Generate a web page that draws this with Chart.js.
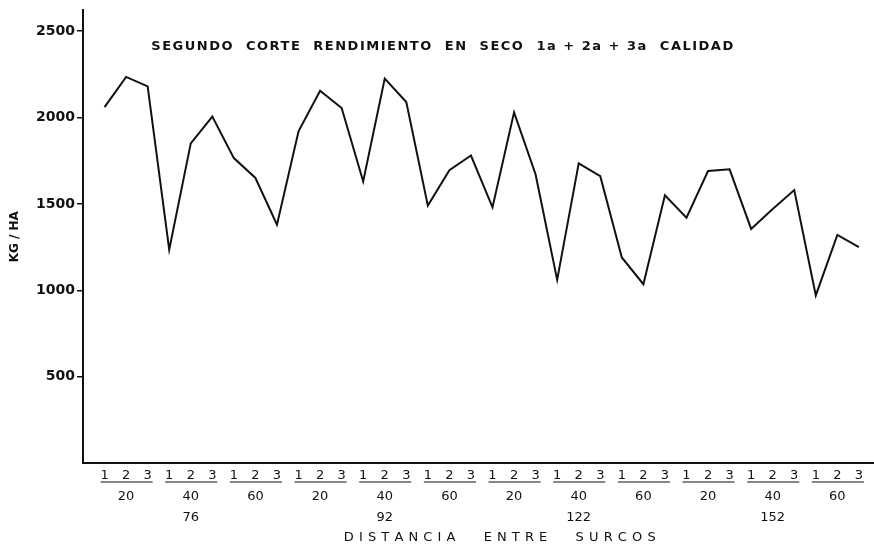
<!DOCTYPE html>
<html>
<head>
<meta charset="utf-8">
<script src="https://cdn.jsdelivr.net/npm/chart.js@4"></script>
<style>
  html, body { margin: 0; padding: 0; background: #fff; }
  #wrap { width: 874px; height: 550px; }
</style>
</head>
<body>
<div id="wrap"><canvas id="rendChart" width="874" height="550"></canvas></div>
<script>
// parcelas 1,2,3 dentro de cada densidad
const plots = ['1', '2', '3']
const densities = ['20', '40', '60']
const rowSpacing = ['76', '92', '122', '152']
// kg/ha, segundo corte, 36 puntos
const yieldKg = [2060, 2235, 2180, 1235, 1850, 2005, 1765, 1650, 1380,
                 1920, 2155, 2055, 1630, 2225, 2090, 1490, 1695, 1780,
                 1480, 2030, 1670, 1060, 1735, 1660, 1190, 1035, 1550,
                 1420, 1690, 1700, 1355, 1470, 1580, 970, 1320, 1250]
const yTicks = [500, 1000, 1500, 2000, 2500]

const points = yieldKg.map((v, i) => ({ x: i + 1, y: v }))

function tickLabel(value) {
    let i = value - 1
    let plot = plots[i % 3]
    if (i % 3 != 1) return plot
    let g = Math.floor(i / 3)
    let lines = [plot, densities[g % 3]]
    if (g % 3 == 1) lines.push(rowSpacing[Math.floor(g / 3)])
    return lines
}

const textPlugin = {
    id: 'texts',
    afterDraw(chart) {
        const ctx = chart.ctx
        const xs = chart.scales.x
        ctx.save()
        ctx.fillStyle = '#111'
        ctx.textAlign = 'center'
        ctx.textBaseline = 'middle'
        ctx.font = 'bold 13px "DejaVu Sans"'
        ctx.letterSpacing = '1.5px'
        ctx.fillText('SEGUNDO  CORTE  RENDIMIENTO  EN  SECO  1a + 2a + 3a  CALIDAD', 443, 47)
        ctx.font = '13px "DejaVu Sans"'
        ctx.letterSpacing = '0.5px'
        ctx.fillText('D I S T A N C I A      E N T R E      S U R C O S', 500, 538)
        ctx.letterSpacing = '0px'
        // underline each 1 2 3 group
        ctx.strokeStyle = '#111'
        ctx.lineWidth = 1.2
        for (let g = 0; g < yieldKg.length / 3; g++) {
            let x1 = xs.getPixelForValue(g * 3 + 1) - 4
            let x2 = xs.getPixelForValue(g * 3 + 3) + 5
            ctx.beginPath()
            ctx.moveTo(x1, 482)
            ctx.lineTo(x2, 482)
            ctx.stroke()
        }
        ctx.restore()
    }
}

new Chart(document.getElementById('rendChart'), {
    type: 'line',
    data: {
        datasets: [{
            data: points,
            borderColor: '#111',
            borderWidth: 2,
            pointRadius: 0,
            tension: 0,
            fill: false
        }]
    },
    options: {
        responsive: false,
        animation: false,
        layout: { padding: { top: 10, right: 0, left: 0, bottom: 0 } },
        plugins: {
            legend: { display: false },
            tooltip: { enabled: false }
        },
        scales: {
            x: {
                type: 'linear',
                min: 0,
                max: 36.7,
                afterBuildTicks: axis => { axis.ticks = points.map(p => ({ value: p.x })) },
                afterFit: scale => { scale.height = 87 },
                grid: { display: false, tickLength: 0 },
                border: { display: true, color: '#111', width: 2 },
                ticks: {
                    autoSkip: false,
                    maxRotation: 0,
                    padding: 2,
                    color: '#111',
                    font: { family: 'DejaVu Sans', size: 13, lineHeight: 1.62 },
                    callback: value => tickLabel(value)
                }
            },
            y: {
                min: 0,
                max: 2620,
                afterBuildTicks: axis => { axis.ticks = yTicks.map(v => ({ value: v })) },
                afterFit: scale => { scale.width = 83 },
                grid: { drawOnChartArea: false, drawTicks: true, tickLength: 6, color: '#111', lineWidth: 1.5 },
                border: { display: true, color: '#111', width: 2 },
                ticks: {
                    padding: 2,
                    color: '#111',
                    font: { family: 'DejaVu Sans', size: 14, weight: 'bold' },
                    callback: value => String(value)
                },
                title: {
                    display: true,
                    text: 'KG / HA',
                    color: '#111',
                    padding: { top: 8, bottom: 0 },
                    font: { family: 'DejaVu Sans', size: 12, weight: 'bold' }
                }
            }
        }
    },
    plugins: [textPlugin]
})
</script>
</body>
</html>
